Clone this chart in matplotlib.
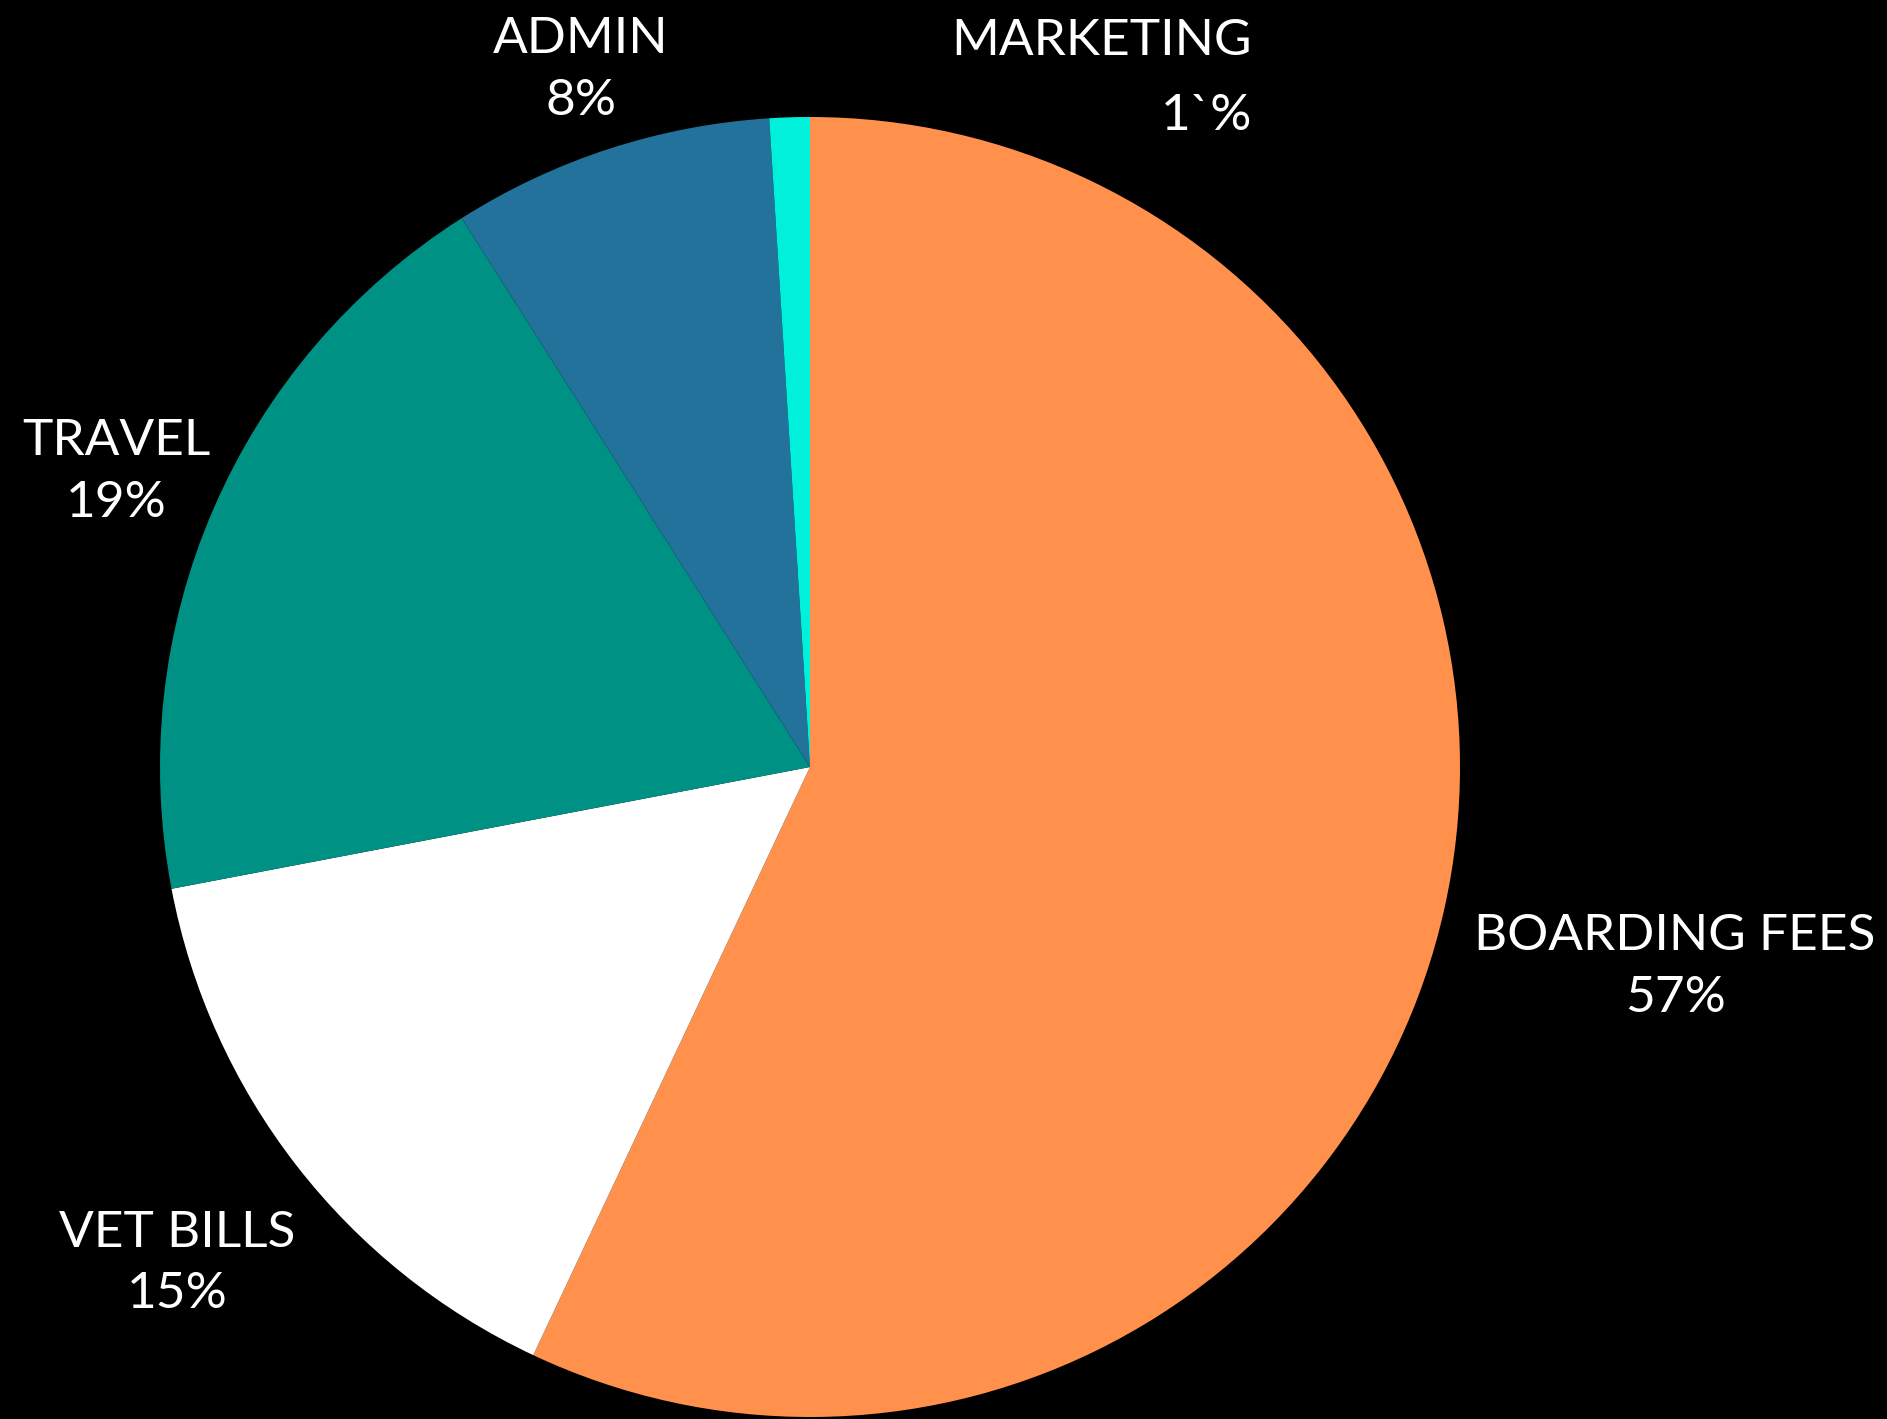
import matplotlib
matplotlib.use("Agg")
import matplotlib.pyplot as plt

# data
categories = ["BOARDING FEES", "VET BILLS", "TRAVEL", "ADMIN", "MARKETING"]
shares = [57, 15, 19, 8, 1]
pct_text = ["57%", "15%", "19%", "8%", "1`%"]
colors = ["#FF914D", "#FFFFFF", "#009185", "#22729C", "#00F0DC"]

W, H = 1887, 1419
plt.rcParams['font.family'] = ['Lato', 'DejaVu Sans']

fig = plt.figure(figsize=(W / 100, H / 100), dpi=100, facecolor="black")
ax = fig.add_axes([0, 0, 1, 1])
ax.set_facecolor("black")

ax.pie(shares, colors=colors, startangle=90, counterclock=False,
       center=(810, H - 767), radius=650, frame=True,
       wedgeprops=dict(linewidth=0))
ax.set_xlim(0, W)
ax.set_ylim(0, H)
ax.set_aspect("auto")
ax.axis("off")

# label placement (x, name baseline, pct baseline, align) in pixel coords from top
label_pos = [
    (1675, 950, 1012, "center"),
    (177, 1247, 1308, "center"),
    (116, 455, 517, "center"),
    (581, 53, 115, "center"),
    (1252, 55, 130, "right"),
]
fs = 37
for name, pct, (x, y1, y2, ha) in zip(categories, pct_text, label_pos):
    ax.text(x, H - y1, name, color="white", fontsize=fs, ha=ha, va="baseline")
    ax.text(x, H - y2, pct, color="white", fontsize=fs, ha=ha, va="baseline")

fig.savefig("out.png", dpi=100, facecolor="black")
